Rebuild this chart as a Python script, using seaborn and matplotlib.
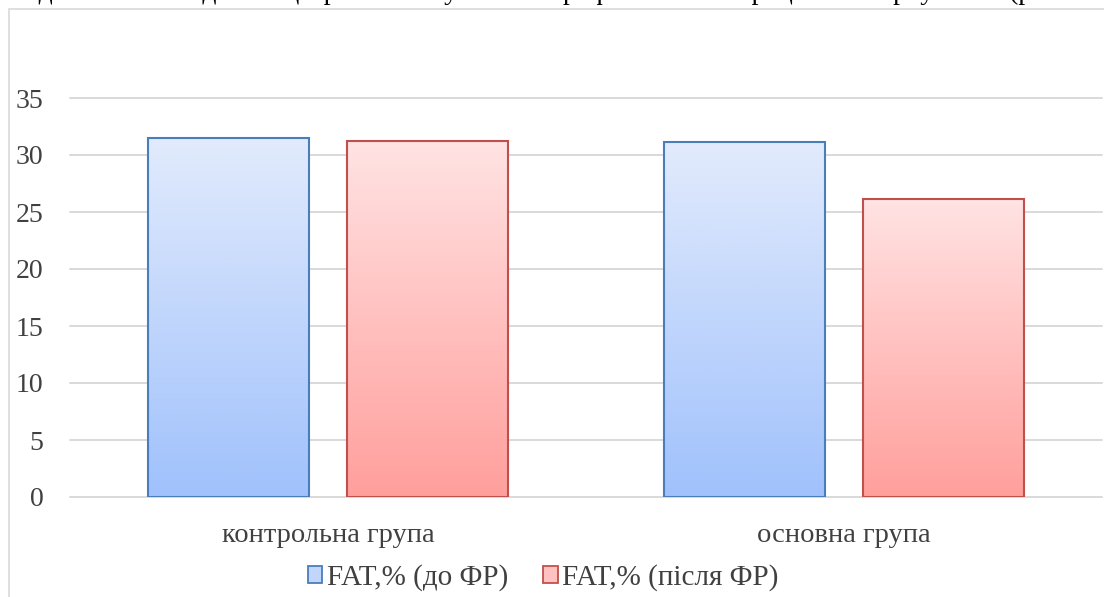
import numpy as np
import pandas as pd
import matplotlib
matplotlib.use("Agg")
import matplotlib.pyplot as plt
import seaborn as sns
from matplotlib.patches import Patch, Rectangle
from matplotlib.colors import LinearSegmentedColormap

# ---- data ----
categories = ["контрольна група", "основна група"]
series_names = ["FAT,% (до ФР)", "FAT,% (після ФР)"]
before_values = [31.5, 31.1]
after_values = [31.2, 26.1]
y_ticks = [0, 5, 10, 15, 20, 25, 30, 35]
top_text = "поєднанням методів танцтерапії й лікувально-профілактичним раціоном харчування (рис. 3.6)"

df = pd.DataFrame({
    "group": categories * 2,
    "series": [series_names[0]] * 2 + [series_names[1]] * 2,
    "value": before_values + after_values,
})

sns.set_theme(style="white")
plt.rcParams["font.family"] = ["Liberation Serif", "DejaVu Serif"]

text_color = "#404040"
grid_color = "#D9D9D9"
edge_colors = ["#4A7EBB", "#C0504D"]
grad_top = ["#E2EBFC", "#FFE3E3"]
grad_bot = ["#A0C1FC", "#FF9F9C"]
mid_colors = ["#C2D6FC", "#FFC2C1"]

fig = plt.figure(figsize=(11.04, 5.97), dpi=100)
ax = fig.add_axes([70 / 1104, 100 / 597, 1032 / 1104, 399 / 597])

sns.barplot(data=df, x="group", y="value", hue="series", order=categories,
            hue_order=series_names, palette=mid_colors, width=0.768, gap=0.1875,
            ax=ax, legend=False, zorder=3)

ax.set_xlim(-0.5, 1.5)
ax.set_ylim(0, 35)
ax.set_yticks(y_ticks)
ax.set_yticklabels([str(t) for t in y_ticks])
ax.set_xlabel("")
ax.set_ylabel("")
for s in ax.spines.values():
    s.set_visible(False)
ax.yaxis.grid(True, color=grid_color, linewidth=1.4, zorder=0)
ax.set_axisbelow(True)
for gl in ax.get_ygridlines():
    gl.set_clip_on(False)
ax.tick_params(axis="y", length=0, pad=19, labelsize=20, labelcolor=text_color)
ax.tick_params(axis="x", length=0, pad=19, labelsize=20.5, labelcolor=text_color)

# gradient fill for bars
bars = [p for p in ax.patches if isinstance(p, Rectangle) and p.get_height() > 0]
for p in bars:
    fc = p.get_facecolor()
    idx = 0 if fc[2] > fc[0] else 1
    cmap = LinearSegmentedColormap.from_list("g", [grad_bot[idx], grad_top[idx]])
    x0, y0 = p.get_x(), p.get_y()
    w, h = p.get_width(), p.get_height()
    grad = np.linspace(0, 1, 256).reshape(-1, 1)
    im = ax.imshow(grad, cmap=cmap, origin="lower", aspect="auto",
                   extent=[x0, x0 + w, y0, y0 + h], zorder=3.5)
    im.set_clip_path(p)
    p.set_edgecolor(edge_colors[idx])
    p.set_linewidth(1.5)
    p.set_facecolor("none")
    p.set_zorder(4)
ax.set_xlim(-0.5, 1.5)
ax.set_ylim(0, 35)

# legend
handles = [Patch(facecolor=mid_colors[i], edgecolor=edge_colors[i], linewidth=1.3,
                 label=series_names[i]) for i in range(2)]
leg = fig.legend(handles=handles, loc="center", bbox_to_anchor=(543 / 1104, 1 - 578 / 597),
                 ncol=2, frameon=False, fontsize=21, handlelength=0.5, handleheight=0.5,
                 handletextpad=0.15, columnspacing=1.2, borderaxespad=0)
for t in leg.get_texts():
    t.set_color(text_color)

# chart frame (extends beyond the right and bottom edges)
fig.patches.append(Rectangle((9 / 1104, -0.2), 2.0, 1.2 - 9 / 597, transform=fig.transFigure,
                             fill=False, edgecolor=grid_color, linewidth=1.2))

# cropped line of body text at the very top
fig.text(-2 / 1104, 1 + 1 / 597, top_text, ha="left", va="baseline", fontsize=20, color="black")

fig.savefig("out.png", dpi=100)
